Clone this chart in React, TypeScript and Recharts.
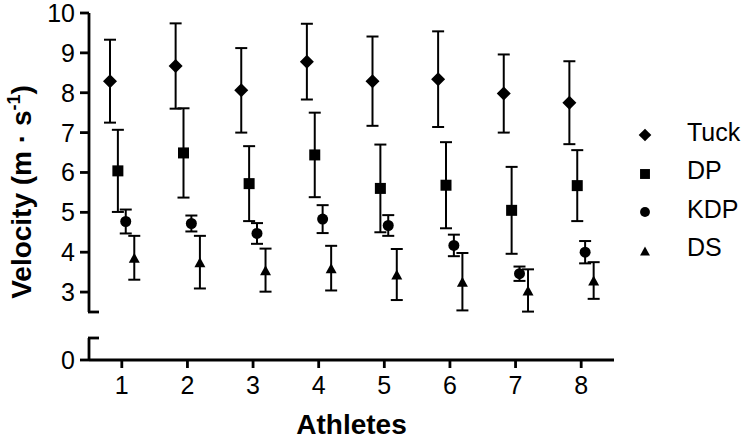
import React from 'react';
import { ScatterChart, Scatter, XAxis, YAxis, ErrorBar, Legend } from 'recharts';

// mean ± SD per athlete
const athletes = [1, 2, 3, 4, 5, 6, 7, 8];
const tuckMean = [8.29, 8.67, 8.06, 8.78, 8.29, 8.34, 7.98, 7.75];
const tuckSd = [1.04, 1.07, 1.06, 0.95, 1.12, 1.2, 0.98, 1.04];
const dpMean = [6.04, 6.49, 5.72, 6.44, 5.6, 5.68, 5.05, 5.67];
const dpSd = [1.03, 1.12, 0.94, 1.06, 1.1, 1.08, 1.09, 0.89];
const kdpMean = [4.77, 4.72, 4.47, 4.83, 4.67, 4.17, 3.46, 4.0];
const kdpSd = [0.3, 0.2, 0.26, 0.35, 0.26, 0.27, 0.18, 0.28];
const dsMean = [3.86, 3.75, 3.55, 3.6, 3.44, 3.26, 3.04, 3.29];
const dsSd = [0.55, 0.66, 0.54, 0.56, 0.64, 0.72, 0.53, 0.46];

const upperTicks = [2.5, 3, 4, 5, 6, 7, 8, 9, 10];
const lowerTicks = [0, 0.55];
const breakValues = [2.5, 0.55];

type Kind = 'diamond' | 'square' | 'circle' | 'triangle';

const series: { name: string; mean: number[]; sd: number[]; kind: Kind; dx: number }[] = [
  { name: 'Tuck', mean: tuckMean, sd: tuckSd, kind: 'diamond', dx: -0.18 },
  { name: 'DP', mean: dpMean, sd: dpSd, kind: 'square', dx: -0.06 },
  { name: 'KDP', mean: kdpMean, sd: kdpSd, kind: 'circle', dx: 0.06 },
  { name: 'DS', mean: dsMean, sd: dsSd, kind: 'triangle', dx: 0.19 },
];

const W = 748;
const FONT = '"Liberation Sans", Arial, Helvetica, sans-serif';
const PLOT_LEFT = 89;
const RIGHT = 134;
const AXIS_W = 2.8;

const Marker = ({ cx, cy, kind, s = 1 }: { cx: number; cy: number; kind: Kind; s?: number }) => {
  if (kind === 'diamond') {
    const r = 7 * s;
    return <polygon points={`${cx},${cy - r} ${cx + r},${cy} ${cx},${cy + r} ${cx - r},${cy}`} fill="#000" />;
  }
  if (kind === 'square') {
    const h = 5.5 * s;
    return <rect x={cx - h} y={cy - h} width={h * 2} height={h * 2} fill="#000" />;
  }
  if (kind === 'circle') return <circle cx={cx} cy={cy} r={5.5 * s} fill="#000" />;
  const w = 5.5 * s;
  return <polygon points={`${cx},${cy - 5 * s} ${cx + w},${cy + 5 * s} ${cx - w},${cy + 5 * s}`} fill="#000" />;
};

const YTick = (props: any) => {
  const { x, y, payload } = props;
  if (breakValues.includes(payload.value)) {
    return <line x1={x - 1} x2={x + 10} y1={y} y2={y} stroke="#000" strokeWidth={AXIS_W} />;
  }
  return (
    <g>
      <line x1={x - 9} x2={x} y1={y} y2={y} stroke="#000" strokeWidth={AXIS_W} />
      <text x={x - 14} y={y} dy="0.36em" textAnchor="end" fontSize={25} fill="#000">
        {payload.value}
      </text>
    </g>
  );
};

const YTitle = () => (
  <text
    x={31}
    y={192}
    transform="rotate(-90, 31, 192)"
    textAnchor="middle"
    fontSize={28}
    fontWeight="bold"
    fill="#000"
  >
    Velocity (m · s<tspan dy={-11} fontSize={18}>-1</tspan>
    <tspan dy={11}>)</tspan>
  </text>
);

const LegendBox = () => (
  <div style={{ fontFamily: FONT }}>
    {series.map((s) => (
      <div key={s.name} style={{ display: 'flex', alignItems: 'center', height: 38.5 }}>
        <svg width={30} height={38} style={{ display: 'block' }}>
          <Marker cx={15} cy={19} kind={s.kind} s={0.9} />
        </svg>
        <span style={{ marginLeft: 27, fontSize: 25, color: '#000', position: 'relative', top: -3 }}>{s.name}</span>
      </div>
    ))}
  </div>
);

const Empty = () => <g />;

const App = () => {
  const data = series.map((s) =>
    athletes.map((a, i) => ({ x: a + s.dx, y: s.mean[i], err: s.sd[i] }))
  );
  const baseline = athletes.map((a) => ({ x: a, y: 0 }));
  return (
    <div style={{ position: 'absolute', left: 0, top: 0, width: W, height: 441, background: '#fff', fontFamily: FONT }}>
      <div style={{ position: 'absolute', left: 0, top: 0 }}>
        <ScatterChart width={W} height={322} margin={{ top: 13, right: RIGHT, bottom: 10, left: 0 }}>
          <XAxis type="number" dataKey="x" domain={[0.5, 8.5]} hide />
          <YAxis
            type="number"
            dataKey="y"
            width={PLOT_LEFT}
            domain={[2.5, 10]}
            ticks={upperTicks}
            interval={0}
            allowDataOverflow
            axisLine={{ stroke: '#000', strokeWidth: AXIS_W }}
            tickLine={false}
            tickSize={0}
            tickMargin={0}
            tick={<YTick />}
            label={<YTitle />}
          />
          {series.map((s, k) => (
            <Scatter
              key={s.name}
              name={s.name}
              data={data[k]}
              isAnimationActive={false}
              shape={(p: any) => <Marker cx={p.cx} cy={p.cy} kind={s.kind} />}
            >
              <ErrorBar dataKey="err" direction="y" width={6} stroke="#000" strokeWidth={2} isAnimationActive={false} />
            </Scatter>
          ))}
          <Legend
            layout="vertical"
            align="center"
            verticalAlign="middle"
            wrapperStyle={{ left: 630, top: 116, width: 118 }}
            content={() => <LegendBox />}
          />
        </ScatterChart>
      </div>
      <div style={{ position: 'absolute', left: 0, top: 322 }}>
        <ScatterChart width={W} height={119} margin={{ top: 16, right: RIGHT, bottom: 0, left: 0 }}>
          <XAxis
            type="number"
            dataKey="x"
            domain={[0.5, 8.5]}
            ticks={athletes}
            interval={0}
            height={81}
            axisLine={{ stroke: '#000', strokeWidth: AXIS_W }}
            tickLine={{ stroke: '#000', strokeWidth: AXIS_W }}
            tickSize={8}
            tickMargin={8}
            tick={{ fontSize: 25, fill: '#000' }}
            label={{ value: 'Athletes', position: 'insideBottom', offset: 7, fontSize: 28, fontWeight: 'bold', fill: '#000' }}
          />
          <YAxis
            type="number"
            dataKey="y"
            width={PLOT_LEFT}
            domain={[0, 0.55]}
            ticks={lowerTicks}
            interval={0}
            allowDataOverflow
            axisLine={{ stroke: '#000', strokeWidth: AXIS_W }}
            tickLine={false}
            tickSize={0}
            tickMargin={0}
            tick={<YTick />}
          />
          {/* zero-line scatter with no visible marks: gives the lower axes their data */}
          <Scatter data={baseline} isAnimationActive={false} legendType="none" shape={<Empty />} />
        </ScatterChart>
      </div>
    </div>
  );
};

export default App;
